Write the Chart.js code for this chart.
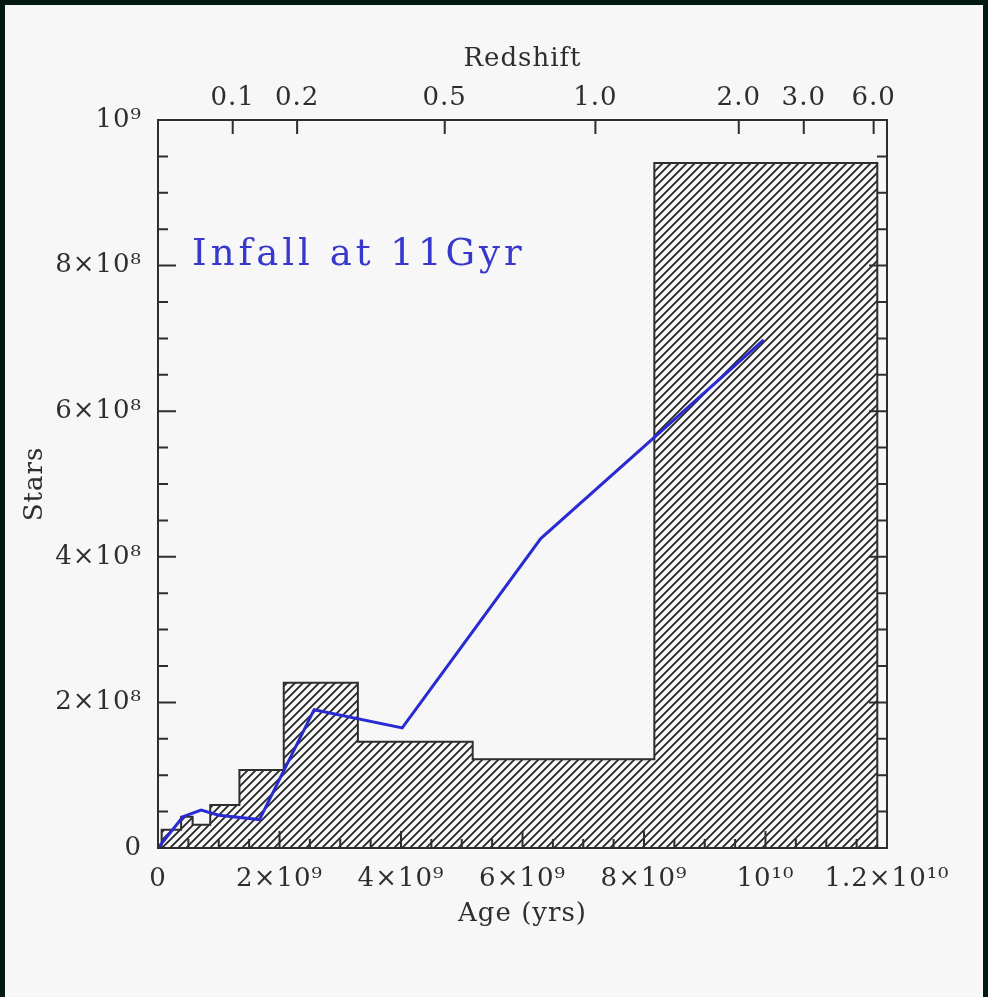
<!DOCTYPE html>
<html>
<head>
<meta charset="utf-8">
<title>Infall at 11Gyr</title>
<script src="https://cdn.jsdelivr.net/npm/chart.js@4.4.1/dist/chart.umd.min.js"></script>
<style>
  html, body { margin: 0; padding: 0; background: #021a12; overflow: hidden; }
  #wrap { position: absolute; left: 5px; top: 5px; width: 978px; height: 992px; background: #f7f7f7; }
</style>
</head>
<body>
<div id="wrap"><canvas id="sfh"></canvas></div>
<script>
/* ─── Data: ages in Gyr, stars in millions ─── */
// histogram: left edge of each bin, height of that bin (last edge closes the histogram)
const binEdges = [0, 0.06, 0.38, 0.57, 0.86, 1.34, 2.07, 3.29, 5.18, 8.17, 11.84];
const binStars = [0, 25, 43, 32, 59, 107, 227, 146, 122, 941];

// infall model curve
const infallAge   = [0, 0.41, 0.71, 1.00, 1.67, 2.57, 4.02, 6.30, 9.97];
const infallStars = [0, 43, 52, 45, 39, 190, 165, 425, 698];

// top axis: redshift marks at the matching age
const redshiftAges   = [1.23, 2.29, 4.72, 7.20, 9.56, 10.63, 11.78];
const redshiftLabels = ['0.1', '0.2', '0.5', '1.0', '2.0', '3.0', '6.0'];

/* ─── Style ─── */
const INK = '#2e2e2e';
const BLUE = '#2a2ad2';
const FONT = "'DejaVu Serif', serif";

const SUP = { '0': '⁰', '1': '¹', '2': '²', '3': '³', '4': '⁴', '5': '⁵', '6': '⁶', '7': '⁷', '8': '⁸', '9': '⁹' };
function sci(v) {
  if (v === 0) return '0';
  const e = Math.floor(Math.log10(v) + 1e-9);
  const m = Math.round(v / Math.pow(10, e) * 10) / 10;
  const p = '10' + String(e).split('').map(c => SUP[c]).join('');
  return m === 1 ? p : m + '×' + p;
}

function hatchPattern() {
  const s = 8;
  const c = document.createElement('canvas');
  c.width = c.height = s;
  const g = c.getContext('2d');
  g.strokeStyle = '#262626';
  g.lineWidth = 1.8;
  g.beginPath();
  g.moveTo(-1, s + 1); g.lineTo(s + 1, -1);
  g.moveTo(-1, 1); g.lineTo(1, -1);
  g.moveTo(s - 1, s + 1); g.lineTo(s + 1, s - 1);
  g.stroke();
  return g.createPattern(c, 'repeat');
}

/* ─── Wider letter spacing, like the original plot font ─── */
const spacing = {
  id: 'spacing',
  beforeUpdate(chart) { chart.ctx.letterSpacing = '1px'; },
  beforeDraw(chart) { chart.ctx.letterSpacing = '1px'; },
};

/* ─── Frame, inward ticks, annotation ─── */
const frameTicks = {
  id: 'frameTicks',
  afterDatasetsDraw(chart) {
    const { ctx, chartArea: a, scales } = chart;
    const x = scales.x, y = scales.y;
    ctx.save();
    ctx.strokeStyle = INK;
    ctx.lineWidth = 2;
    ctx.strokeRect(a.left, a.top, a.right - a.left, a.bottom - a.top);

    ctx.beginPath();
    for (let i = 0; i <= 24; i++) {
      const px = x.getPixelForValue(i * 0.5e9);
      const len = i % 4 === 0 ? 17 : 9;
      ctx.moveTo(px, a.bottom); ctx.lineTo(px, a.bottom - len);
    }
    for (let i = 0; i <= 20; i++) {
      const py = y.getPixelForValue(i * 0.5e8);
      const len = i % 4 === 0 ? 18 : 10;
      ctx.moveTo(a.left, py); ctx.lineTo(a.left + len, py);
      ctx.moveTo(a.right, py); ctx.lineTo(a.right - len, py);
    }
    scales.x2.ticks.forEach(t => {
      const px = scales.x2.getPixelForValue(t.value);
      ctx.moveTo(px, a.top); ctx.lineTo(px, a.top + 14);
    });
    ctx.stroke();

    ctx.fillStyle = '#3838cc';
    ctx.font = '37px ' + FONT;
    ctx.letterSpacing = '4px';
    ctx.textBaseline = 'alphabetic';
    ctx.textAlign = 'left';
    ctx.fillText('Infall at 11Gyr', x.getPixelForValue(0.56e9), y.getPixelForValue(801e6));
    ctx.restore();
  }
};

/* ─── Datasets ─── */
const stepPoints = binEdges.map((e, i) => ({ x: e * 1e9, y: (i < binStars.length ? binStars[i] : 0) * 1e6 }));
const infallPoints = infallAge.map((a, i) => ({ x: a * 1e9, y: infallStars[i] * 1e6 }));

const tickFont = { family: FONT, size: 26 };
const titleFont = { family: FONT, size: 26 };

new Chart(document.getElementById('sfh'), {
  type: 'line',
  data: {
    datasets: [
      {
        label: 'Infall at 11Gyr',
        data: infallPoints,
        borderColor: BLUE,
        borderWidth: 3,
        pointRadius: 0,
        fill: false,
        tension: 0,
      },
      {
        label: 'Stars',
        data: stepPoints,
        stepped: true,
        borderColor: INK,
        borderWidth: 2,
        backgroundColor: hatchPattern(),
        fill: 'origin',
        pointRadius: 0,
      },
    ],
  },
  options: {
    responsive: true,
    maintainAspectRatio: false,
    animation: false,
    layout: { padding: { left: 0, top: 0, right: 96, bottom: 0 } },
    plugins: {
      legend: { display: false },
      tooltip: { enabled: false },
    },
    scales: {
      x: {
        type: 'linear',
        position: 'bottom',
        min: 0,
        max: 12e9,
        grid: { display: false, drawTicks: false },
        border: { display: false },
        ticks: { stepSize: 2e9, padding: 16, color: INK, font: tickFont, maxRotation: 0, autoSkip: false, callback: v => sci(v) },
        title: { display: true, text: 'Age (yrs)', color: INK, font: titleFont, padding: { top: 0, bottom: 67 } },
        afterFit: s => { s.height = 149; },
      },
      x2: {
        type: 'linear',
        position: 'top',
        min: 0,
        max: 12e9,
        grid: { display: false, drawTicks: false },
        border: { display: false },
        afterBuildTicks: s => { s.ticks = redshiftAges.map(v => ({ value: v * 1e9 })); },
        ticks: { padding: 6, color: INK, font: tickFont, maxRotation: 0, autoSkip: false, callback: (v, i) => redshiftLabels[i] },
        title: { display: true, text: 'Redshift', color: INK, font: titleFont, padding: { top: 39, bottom: 0 } },
        afterFit: s => { s.height = 115; },
      },
      y: {
        type: 'linear',
        position: 'left',
        min: 0,
        max: 1e9,
        grid: { display: false, drawTicks: false },
        border: { display: false },
        ticks: { stepSize: 2e8, padding: 16, color: INK, font: tickFont, callback: v => sci(v) },
        title: { display: true, text: 'Stars', color: INK, font: titleFont, padding: { top: 15, bottom: 0 } },
        afterFit: s => { s.width = 153; },
      },
    },
  },
  plugins: [spacing, frameTicks],
});
</script>
</body>
</html>
